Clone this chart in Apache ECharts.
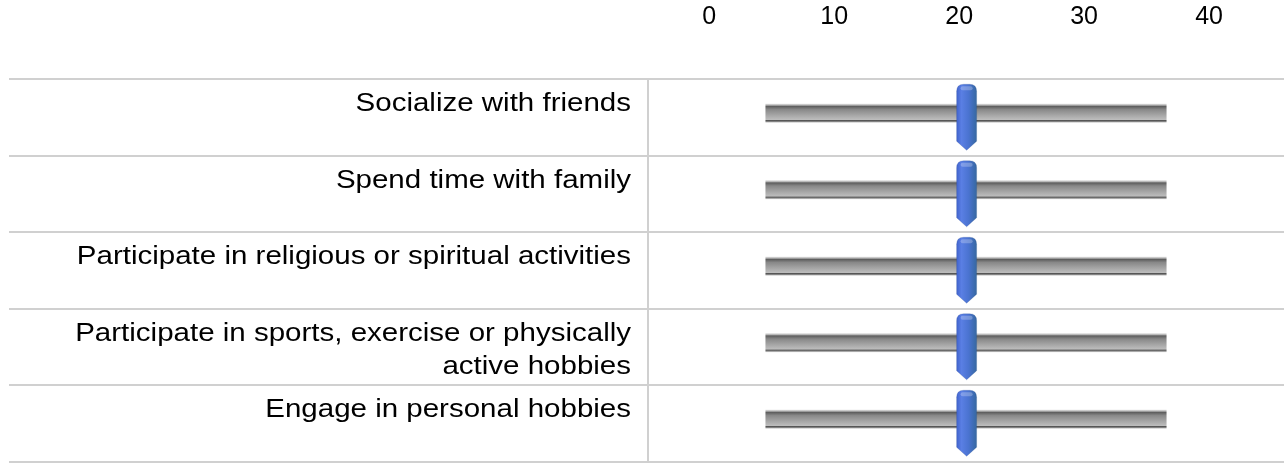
<!DOCTYPE html>
<html>
<head>
<meta charset="utf-8">
<script src="https://cdn.jsdelivr.net/npm/echarts@6/dist/echarts.min.js"></script>
<style>
html, body { margin: 0; padding: 0; background: #fff; }
#chart { width: 1284px; height: 463px; }
</style>
</head>
<body>
<div id="chart"></div>
<script type="text/javascript">
// rows, top to bottom
var categories = [
	'Socialize with friends',
	'Spend time with family',
	'Participate in religious or spiritual activities',
	'Participate in sports, exercise or physically active hobbies',
	'Engage in personal hobbies'
];
var lowValues  = [4.5, 4.5, 4.5, 4.5, 4.5];
var highValues = [36.6, 36.6, 36.6, 36.6, 36.6];
var markValues = [20.6, 20.6, 20.6, 20.6, 20.6];
var tickValues = [0, 10, 20, 30, 40];

var font = "'Liberation Sans', Arial, sans-serif";
var fontSize = 25;
var textStretch = 1.18;   // the source picture has wide-set lettering
var lineColor = '#d0d0d0';

var rows = categories.map(function (c, i) {
	return [i, lowValues[i], highValues[i], markValues[i]];
});

// word wrap for the long row names
var measure = document.createElement('canvas').getContext('2d');
measure.font = fontSize + 'px ' + font;
function wrapText(text, maxWidth) {
	var words = text.split(' '), lines = [], cur = '';
	words.forEach(function (w) {
		var test = cur ? cur + ' ' + w : w;
		if (cur && measure.measureText(test).width > maxWidth) {
			lines.push(cur);
			cur = w;
		} else {
			cur = test;
		}
	});
	if (cur) lines.push(cur);
	return lines.join('\n');
}

function renderRange(params, api) {
	var cat = api.value(0);
	var lo = api.coord([api.value(1), cat]);
	var hi = api.coord([api.value(2), cat]);
	var mid = api.coord([api.value(3), cat]);
	var yc = lo[1];
	var band = api.size([0, 1])[1];
	return {
		type: 'group',
		children: [
			{
				type: 'text',
				x: params.coordSys.x - 17,
				y: yc - band / 2 + 9,
				scaleX: textStretch,
				style: {
					text: wrapText(categories[params.dataIndex], 500),
					font: fontSize + 'px ' + font,
					fill: '#000',
					align: 'right',
					verticalAlign: 'top',
					lineHeight: 33
				}
			},
			{
				type: 'rect',
				shape: { x: lo[0], y: yc - 13.5, width: hi[0] - lo[0], height: 19 },
				style: {
					fill: new echarts.graphic.LinearGradient(0, 0, 0, 1, [
						{ offset: 0, color: '#e2e2e2' },
						{ offset: 0.07, color: '#b8b8b8' },
						{ offset: 0.14, color: '#5e5e5e' },
						{ offset: 0.3, color: '#888888' },
						{ offset: 0.6, color: '#a6a6a6' },
						{ offset: 0.84, color: '#bdbdbd' },
						{ offset: 0.88, color: '#555555' },
						{ offset: 0.93, color: '#7c7c7c' },
						{ offset: 1, color: '#e6e6e6' }
					])
				}
			},
			{
				type: 'path',
				shape: {
					pathData: 'M0,7 Q0,0 7,0 L13,0 Q20,0 20,7 L20,57 L10,66 L0,57 Z',
					x: mid[0] - 10, y: yc - 33, width: 20, height: 66, layout: 'cover'
				},
				style: {
					fill: new echarts.graphic.LinearGradient(0, 0, 1, 0, [
						{ offset: 0, color: '#4062cc' },
						{ offset: 0.25, color: '#5a7fe4' },
						{ offset: 0.6, color: '#4a73d0' },
						{ offset: 1, color: '#35689f' }
					]),
					stroke: 'rgba(40,70,140,0.35)',
					lineWidth: 0.6
				}
			},
			{
				type: 'rect',
				shape: { x: mid[0] - 6, y: yc - 31, width: 12, height: 4, r: 2 },
				style: { fill: 'rgba(255,255,255,0.25)' }
			}
		]
	};
}

var myChart = echarts.init(document.getElementById('chart'), null, { renderer: 'canvas' });
var option = {
	animation: false,
	textStyle: { fontFamily: font },
	grid: [
		{ left: 9, right: 0, top: 79, bottom: 1.5 },
		{ left: 648, right: 0, top: 79, bottom: 1.5 }
	],
	xAxis: [
		{ gridIndex: 0, type: 'value', show: false, min: 0, max: 1 },
		{
			gridIndex: 1,
			type: 'value',
			position: 'top',
			min: -4.9,
			max: 46,
			axisLine: { show: false },
			axisTick: { show: false },
			splitLine: { show: false },
			axisLabel: {
				customValues: tickValues,
				color: '#000',
				fontSize: fontSize,
				fontFamily: font,
				margin: 49
			}
		}
	],
	yAxis: [
		{
			gridIndex: 0,
			type: 'value',
			min: 0,
			max: 5,
			interval: 1,
			inverse: true,
			axisLine: { show: false },
			axisTick: { show: false },
			axisLabel: { show: false },
			splitLine: { show: true, lineStyle: { color: lineColor, width: 2 } }
		},
		{
			gridIndex: 1,
			type: 'category',
			data: categories,
			inverse: true,
			axisLine: { show: true, onZero: false, lineStyle: { color: lineColor, width: 2 } },
			axisTick: { show: false },
			axisLabel: { show: false },
			splitLine: { show: false }
		}
	],
	series: [
		{
			type: 'custom',
			xAxisIndex: 1,
			yAxisIndex: 1,
			renderItem: renderRange,
			encode: { x: [1, 2, 3], y: 0 },
			data: rows,
			clip: false
		}
	]
};
myChart.setOption(option);
</script>
</body>
</html>
